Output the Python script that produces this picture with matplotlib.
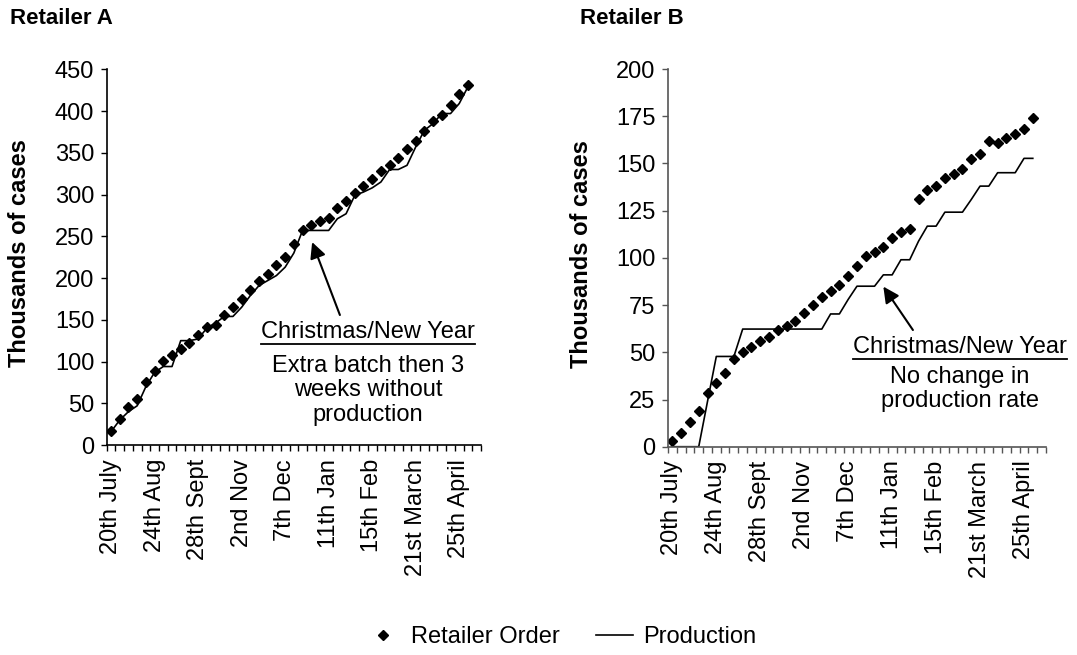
import numpy as np
import matplotlib
matplotlib.use("Agg")
import matplotlib.pyplot as plt
from matplotlib.lines import Line2D

plt.rcParams['font.family'] = ['Liberation Sans', 'DejaVu Sans']

# Categorías semanales (43 semanas, etiqueta cada 5)
n_weeks = 43
week_labels = ['20th July', '24th Aug', '28th Sept', '2nd Nov', '7th Dec',
               '11th Jan', '15th Feb', '21st March', '25th April']
label_weeks = [0, 5, 10, 15, 20, 25, 30, 35, 40]

# Retailer A (miles de cajas)
order_a = [16.7, 31, 45.8, 54.6, 75.7, 88.9, 100.8, 107.6, 114.5, 121.6,
           131.6, 140.8, 143.2, 155.5, 165.4, 174.3, 186.2, 196.5, 205.4, 215.3,
           225.2, 240.4, 257.2, 264, 268.3, 272, 283.9, 292.3, 301.8, 309.8,
           319, 328.1, 335.8, 344.1, 354, 364, 375.6, 387.9, 394.7, 406.7,
           419.9, 430.6]
prod_a = [16, 30, 40, 47, 70, 87, 94, 94, 125, 125,
          127, 140, 146, 154, 154, 165, 179, 191, 197, 203,
          213, 230, 257, 257, 257, 257, 271, 277, 299, 303,
          308, 315, 330, 330, 335, 357, 377, 385, 397, 397,
          409, 429]

# Retailer B
order_b = [3.2, 7.4, 13.3, 19.1, 28.3, 33.6, 39, 46.4, 50.4, 52.8,
           56.1, 58.1, 61.6, 63.7, 66.7, 70.8, 75.2, 79.3, 82.6, 85.8,
           90.2, 95.5, 100.8, 103.2, 105.8, 110.6, 113.6, 115.5, 131.3, 135.7,
           138, 142.5, 144.6, 146.9, 152.2, 154.8, 161.9, 161, 163.7, 165.4,
           168.5, 173.9]
prod_b = [0, 0, 0, 0, 24, 47.8, 47.8, 47.8, 62.3, 62.3,
          62.3, 62.3, 62.3, 62.3, 62.3, 62.3, 62.3, 62.3, 70.3, 70.3,
          78, 85, 85, 85, 91, 91, 99, 99, 108.8, 116.8,
          116.8, 124.2, 124.2, 124.2, 130.9, 138, 138, 145.1, 145.1, 145.1,
          152.7, 152.7]

FS = 17

fig = plt.figure(figsize=(10.77, 6.55), dpi=100)
ax_a = fig.add_axes([0.0991, 0.3206, 0.3475, 0.5736])
ax_b = fig.add_axes([0.6202, 0.318, 0.351, 0.5766])


def setup(ax, order, prod, ymax, ystep, axis_color):
    x = np.arange(len(order))
    ln_o, = ax.plot(x, order, linestyle='none', marker='D', markersize=5,
                    color='black', label='Retailer Order')
    ln_p, = ax.plot(x, prod, '-', color='black', linewidth=1.2, label='Production')
    ax.set_xlim(-0.5, n_weeks - 0.5)
    ax.set_ylim(0, ymax)
    ax.set_yticks(np.arange(0, ymax + 1, ystep))
    ax.set_xticks(np.arange(-0.5, n_weeks, 1))
    ax.set_xticklabels([])
    ax.set_xticks(label_weeks, minor=True)
    ax.set_xticklabels(week_labels, minor=True, rotation=90, fontsize=FS)
    ax.tick_params(axis='x', which='major', direction='out', length=4.5,
                   width=1, color=axis_color)
    ax.tick_params(axis='x', which='minor', length=0, pad=10)
    ax.tick_params(axis='y', direction='out', length=4, width=1,
                   color=axis_color, labelsize=FS, pad=5)
    for s in ['top', 'right']:
        ax.spines[s].set_visible(False)
    for s in ['left', 'bottom']:
        ax.spines[s].set_color(axis_color)
        ax.spines[s].set_linewidth(1.2)
    ax.set_ylabel('Thousands of cases', fontsize=FS, fontweight='bold', va='center')
    return ln_o, ln_p


ln_o, ln_p = setup(ax_a, order_a, prod_a, 450, 50, 'black')
setup(ax_b, order_b, prod_b, 200, 25, '#555555')
ax_a.yaxis.set_label_coords(-0.232, 0.51)
ax_b.yaxis.set_label_coords(-0.2275, 0.51)

fig.text(10 / 1077, 1 - 18 / 655, 'Retailer A', fontsize=16, fontweight='bold',
         va='center', ha='left')
fig.text(580 / 1077, 1 - 18 / 655, 'Retailer B', fontsize=16, fontweight='bold',
         va='center', ha='left')

arrow = dict(arrowstyle='-|>', mutation_scale=24, lw=1.5, color='black',
             shrinkA=0, shrinkB=0)

# Anotaciones
ax_a.annotate('', xy=(23.1, 243), xycoords='data', xytext=(0.623, 0.346),
              textcoords='axes fraction', arrowprops=arrow)
t_a = ax_a.text(0.698, 0.301, 'Christmas/New Year', transform=ax_a.transAxes,
                ha='center', va='center', fontsize=FS)
ax_a.text(0.698, 0.146, 'Extra batch then 3\nweeks without\nproduction',
          transform=ax_a.transAxes, ha='center', va='center', fontsize=FS,
          linespacing=1.15)

ax_b.annotate('', xy=(24, 84.8), xycoords='data', xytext=(0.648, 0.309),
              textcoords='axes fraction', arrowprops=arrow)
t_b = ax_b.text(0.772, 0.264, 'Christmas/New Year', transform=ax_b.transAxes,
                ha='center', va='center', fontsize=FS)
ax_b.text(0.772, 0.153, 'No change in\nproduction rate', transform=ax_b.transAxes,
          ha='center', va='center', fontsize=FS, linespacing=1.15)

# Subrayado bajo "Christmas/New Year"
fig.canvas.draw()
inv = fig.transFigure.inverted()
for t in [t_a, t_b]:
    bb = t.get_window_extent().transformed(inv)
    fig.add_artist(Line2D([bb.x0, bb.x1], [bb.y0 - 0.002, bb.y0 - 0.002],
                          transform=fig.transFigure, color='black', lw=1.3))

fig.legend([ln_o, ln_p], ['Retailer Order', 'Production'], loc='center',
           bbox_to_anchor=(0.52, 1 - 637 / 655), ncol=2, frameon=False,
           fontsize=FS, numpoints=1, handlelength=1.6, columnspacing=1.5,
           handletextpad=0.4)

fig.savefig('out.png', dpi=100)
